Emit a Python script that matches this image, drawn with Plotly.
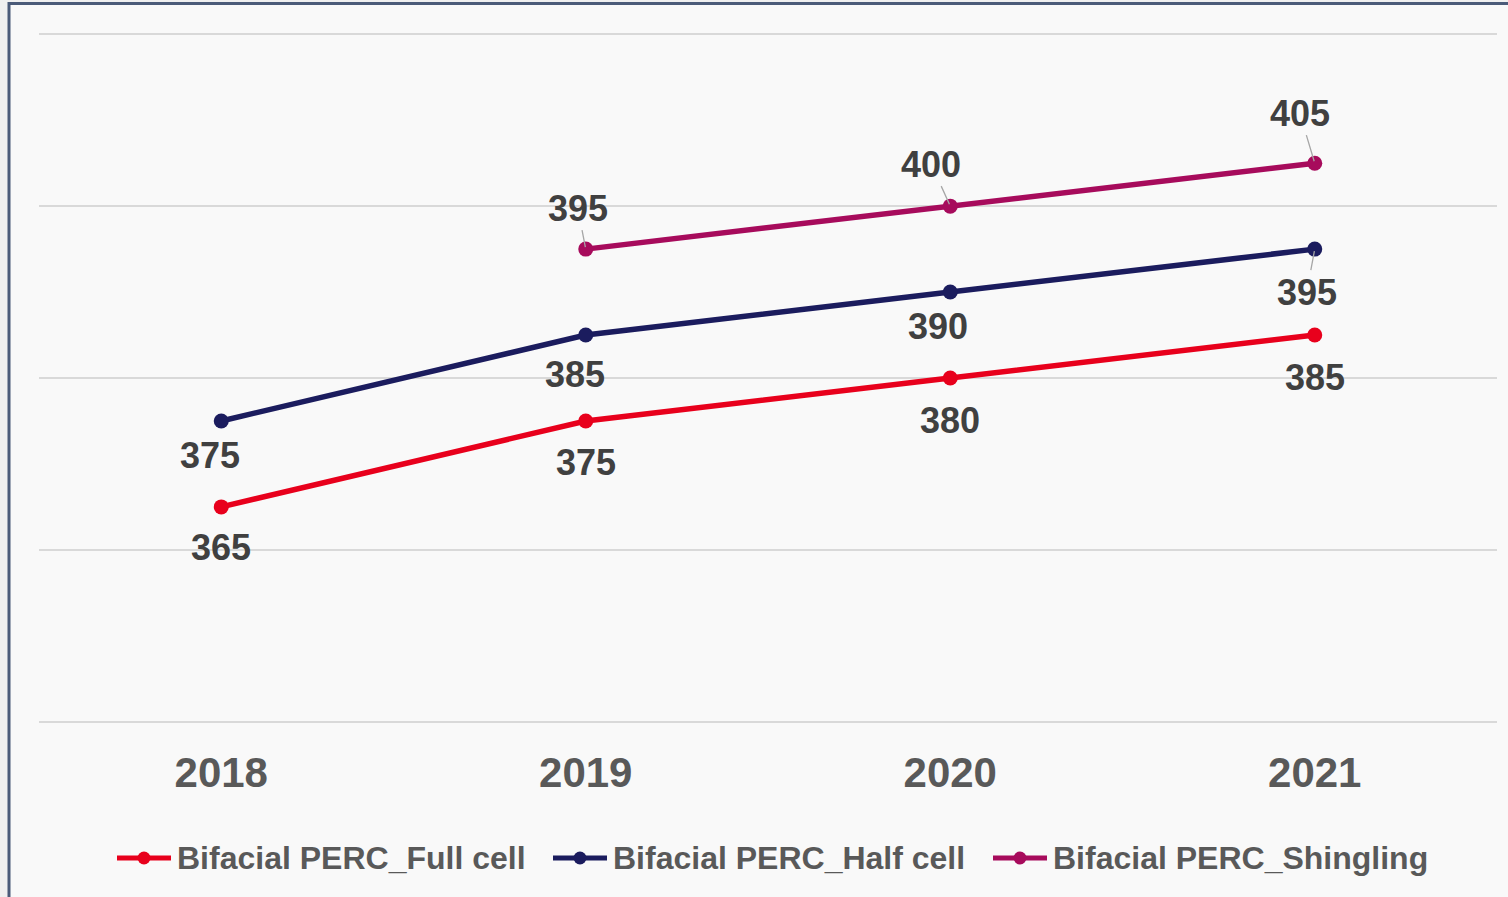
import plotly.graph_objects as go

years = ["2018", "2019", "2020", "2021"]
full_cell = [365, 375, 380, 385]
half_cell = [375, 385, 390, 395]
shingling = [None, 395, 400, 405]

series_names = ["Bifacial PERC_Full cell", "Bifacial PERC_Half cell", "Bifacial PERC_Shingling"]
series_values = [full_cell, half_cell, shingling]
colors = ["#e8001c", "#1b1c5e", "#a70b5c"]

# label offsets in pixels (dx, dy) and whether a leader line is drawn
label_style = [
    [(0, 41, False), (0, 42, False), (0, 42, False), (0, 42, False)],
    [(-11, 35, False), (-11, 39, False), (-12, 34, False), (-8, 43, True)],
    [(0, 0, False), (-8, -41, True), (-19, -42, True), (-15, -50, True)],
]

# custom legend layout (pixel positions of each entry's line start)
legend_x_px = [117, 553, 993]
legend_y_px = 858

FONT = "Liberation Sans, Arial, sans-serif"
W, H = 1508, 897
ML, MR, MT, MB = 39, 11, 33, 174
PW, PH = W - ML - MR, H - MT - MB


def px_to_paper(px, py):
    return (px - ML) / PW, (H - MB - py) / PH


fig = go.Figure()
for name, vals, col in zip(series_names, series_values, colors):
    fig.add_trace(go.Scatter(
        x=years, y=vals, name=name, mode="lines+markers",
        line=dict(color=col, width=5.5),
        marker=dict(color=col, size=15),
        connectgaps=False, showlegend=False,
    ))

annotations = []
for vals, styles in zip(series_values, label_style):
    for i, (yv, (dx, dy, leader)) in enumerate(zip(vals, styles)):
        if yv is None:
            continue
        if leader:
            annotations.append(dict(
                x=i, y=yv, xref="x", yref="y", text="<b>%d</b>" % yv,
                showarrow=True, ax=dx, ay=dy,
                arrowhead=0, arrowwidth=1.3, standoff=2,
                arrowcolor="#a6a6a6",
                font=dict(family=FONT, size=36, color="#404040"),
            ))
        else:
            annotations.append(dict(
                x=i, y=yv, xref="x", yref="y", text="<b>%d</b>" % yv,
                showarrow=False, xshift=dx, yshift=-dy,
                font=dict(family=FONT, size=36, color="#404040"),
            ))

shapes = [
    dict(type="rect", xref="paper", yref="paper",
         x0=(9 - ML) / PW, x1=1.2, y0=-0.6, y1=(H - MB - 3.5) / PH,
         fillcolor="#f9f9f9", line=dict(color="#4b5b79", width=3), layer="below"),
]

# custom legend
for name, col, lx in zip(series_names, colors, legend_x_px):
    x0, yy = px_to_paper(lx, legend_y_px)
    x1, _ = px_to_paper(lx + 54, legend_y_px)
    shapes.append(dict(type="line", xref="paper", yref="paper", x0=x0, x1=x1, y0=yy, y1=yy,
                       line=dict(color=col, width=5)))
    cx, cy = px_to_paper(lx + 27, legend_y_px)
    r = 6.5
    shapes.append(dict(type="circle", xref="paper", yref="paper",
                       x0=cx - r / PW, x1=cx + r / PW, y0=cy - r / PH, y1=cy + r / PH,
                       fillcolor=col, line=dict(width=0)))
    tx, _ = px_to_paper(lx + 58, legend_y_px)
    annotations.append(dict(
        x=tx, y=yy, xref="paper", yref="paper", xanchor="left", yanchor="middle",
        text="<b>%s</b>" % name, showarrow=False,
        font=dict(family=FONT, size=32, color="#595959"),
    ))

fig.update_layout(
    width=W, height=H,
    margin=dict(l=ML, r=MR, t=MT, b=MB),
    paper_bgcolor="#f0f0f0",
    plot_bgcolor="rgba(0,0,0,0)",
    showlegend=False,
    annotations=annotations,
    shapes=shapes,
    xaxis=dict(
        type="category", showgrid=False, zeroline=False, showline=False, automargin=False,
        ticks="outside", ticklen=13, tickcolor="rgba(0,0,0,0)",
        tickfont=dict(family=FONT, size=42, color="#595959", weight="bold"),
        range=[-0.5, 3.5],
    ),
    yaxis=dict(
        range=[339.85, 420.15], dtick=20, tick0=340, showticklabels=False, automargin=False,
        showgrid=True, gridcolor="#d9d9d9", gridwidth=2, zeroline=False, showline=False,
    ),
)

fig.write_html("out.html", config={"displayModeBar": False},
               post_script="document.body.style.margin='0';document.body.style.overflow='hidden';")
